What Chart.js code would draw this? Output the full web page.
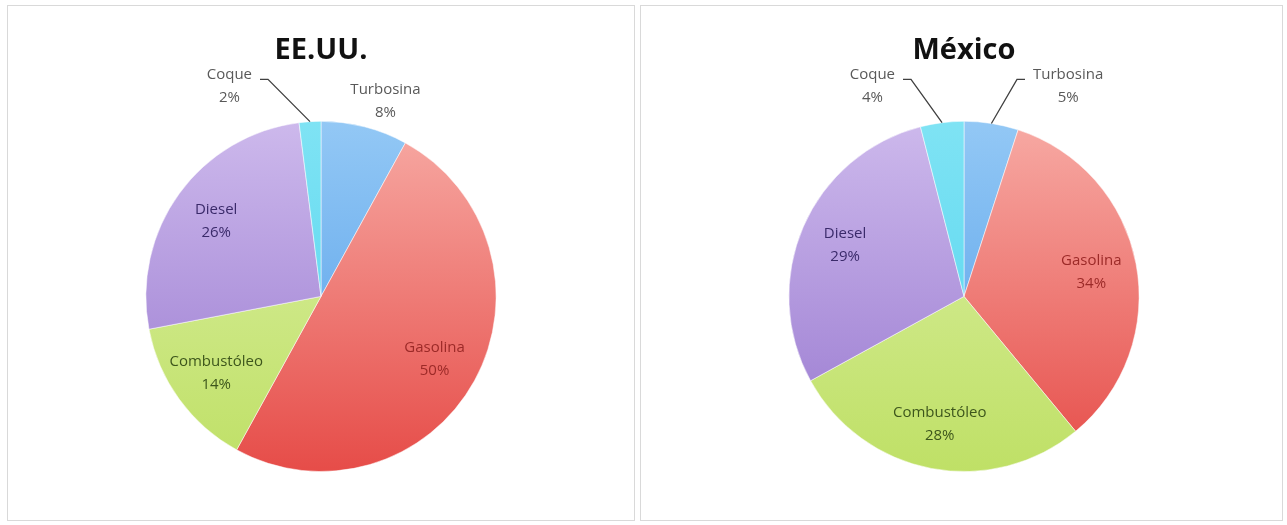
<!DOCTYPE html>
<html>
<head>
<meta charset="utf-8">
<script src="https://cdn.jsdelivr.net/npm/chart.js@4/dist/chart.umd.min.js"></script>
<style>
  body { margin: 0; background: #fff; }
  .panel { position: absolute; top: 5px; height: 514px; border: 1px solid #d9d9d9; background: #fff; }
  #usaBox { left: 7px; width: 626px; }
  #mexBox { left: 640px; width: 641px; }
</style>
</head>
<body>
<div class="panel" id="usaBox"><canvas id="usaChart"></canvas></div>
<div class="panel" id="mexBox"><canvas id="mexChart"></canvas></div>
<script>
var categories = ['Turbosina', 'Gasolina', 'Combustóleo', 'Diesel', 'Coque'];
var usaValues = [8, 50, 14, 26, 2];
var mexValues = [5, 34, 28, 29, 4];
var chartTitles = ['EE.UU.', 'México'];

// light (top) and dark (bottom) colour for each slice
var lightColors = ['#93c8f5', '#f7aaa4', '#dcf0a6', '#cdb9ec', '#7fe3f4'];
var darkColors = ['#4f9be8', '#e64c48', '#bfe066', '#9777cf', '#4fd3ee'];
var textColors = ['#595959', '#9c2a28', '#3d561c', '#3a2a6a', '#595959'];

var fontFamily = '"Open Sans", "Liberation Sans", sans-serif';

function sliceColor(context) {
    var chart = context.chart;
    var area = chart.chartArea;
    var i = context.dataIndex;
    if (!area) return darkColors[i];
    var g = chart.ctx.createLinearGradient(0, area.top, 0, area.bottom);
    g.addColorStop(0, lightColors[i]);
    g.addColorStop(1, darkColors[i]);
    return g;
}

var pieLabels = {
    id: 'pieLabels',
    afterDatasetsDraw: function(chart) {
        var ctx = chart.ctx;
        var data = chart.data.datasets[0].data;
        var total = data.reduce(function(a, b) { return a + b; }, 0);
        var meta = chart.getDatasetMeta(0);
        ctx.save();
        ctx.font = '15px ' + fontFamily;
        ctx.textAlign = 'center';
        ctx.textBaseline = 'middle';
        meta.data.forEach(function(arc, i) {
            var p = arc.getProps(['x', 'y', 'startAngle', 'endAngle', 'outerRadius'], true);
            var mid = (p.startAngle + p.endAngle) / 2;
            var R = p.outerRadius;
            var pct = Math.round(data[i] / total * 100);
            var line1 = chart.data.labels[i];
            var line2 = pct + '%';
            var w1 = ctx.measureText(line1).width;
            var lx, ly1;
            ctx.fillStyle = textColors[i];
            if (pct >= 10) {
                lx = p.x + Math.cos(mid) * R * 0.74;
                ly1 = p.y + Math.sin(mid) * R * 0.74 - 11;
            } else if (pct >= 6) {
                lx = p.x + Math.cos(mid) * (R + 36) + 12;
                ly1 = p.y + Math.sin(mid) * (R + 36) - 2;
            } else {
                var side = Math.cos(mid) >= 0 ? 1 : -1;
                var ex = p.x + side * 53;
                var ey = p.y - R - 42;
                var sx = ex + side * 8;
                ctx.strokeStyle = '#404040';
                ctx.lineWidth = 1.3;
                ctx.beginPath();
                ctx.moveTo(sx, ey);
                ctx.lineTo(ex, ey);
                ctx.lineTo(p.x + Math.cos(mid) * R, p.y + Math.sin(mid) * R);
                ctx.stroke();
                lx = sx + side * (8 + w1 / 2);
                ly1 = ey - 5;
            }
            ctx.fillText(line1, lx, ly1);
            ctx.fillText(line2, lx, ly1 + 23);
        });
        ctx.restore();
    }
};

function makePie(canvasId, title, values, padLeft) {
    return new Chart(document.getElementById(canvasId).getContext('2d'), {
        type: 'pie',
        data: {
            labels: categories,
            datasets: [{
                data: values,
                backgroundColor: sliceColor,
                borderColor: 'rgba(255,255,255,0.5)',
                borderWidth: 1
            }]
        },
        options: {
            responsive: true,
            maintainAspectRatio: false,
            animation: false,
            layout: { padding: { top: 0, bottom: 48, left: padLeft, right: 0 } },
            plugins: {
                legend: { display: false },
                tooltip: { enabled: false },
                title: {
                    display: true,
                    text: title,
                    color: '#111',
                    font: { family: fontFamily, size: 29, weight: 'bold', lineHeight: 1.2 },
                    padding: { top: 27, bottom: 53 }
                }
            }
        },
        plugins: [pieLabels]
    });
}

var usaChart = makePie('usaChart', chartTitles[0], usaValues, 0);
var mexChart = makePie('mexChart', chartTitles[1], mexValues, 5);
</script>
</body>
</html>
